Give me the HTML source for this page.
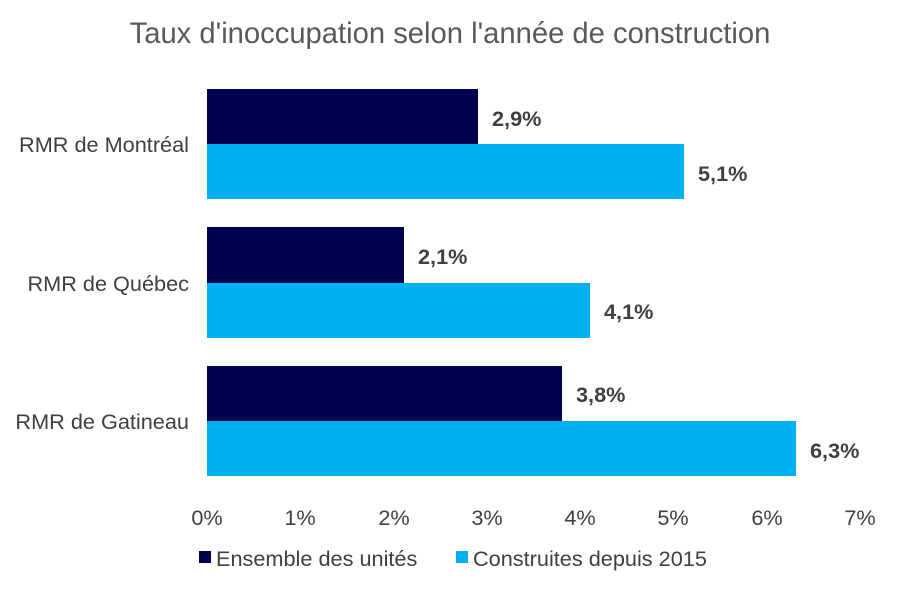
<!DOCTYPE html>
<html><head><meta charset="utf-8"><style>
body{margin:0;background:#fff}
svg text{font-family:"Liberation Sans",Arial,sans-serif}
</style></head><body>
<svg width="900" height="591" xmlns="http://www.w3.org/2000/svg">
<rect width="900" height="591" fill="#fff"/>
<text x="450" y="43" text-anchor="middle" font-size="29.2" fill="#595959">Taux d'inoccupation selon l'année de construction</text>
<g fill="#000050">
<rect x="207" y="89" width="271" height="55"/>
<rect x="207" y="227" width="197" height="56"/>
<rect x="207" y="366" width="355" height="55"/>
</g>
<g fill="#00b0f0">
<rect x="207" y="144" width="477" height="55"/>
<rect x="207" y="283" width="383" height="55"/>
<rect x="207" y="421" width="589" height="55"/>
</g>
<g font-size="21.7" font-weight="bold" fill="#404040">
<text x="492" y="126">2,9%</text>
<text x="698" y="181">5,1%</text>
<text x="418" y="264">2,1%</text>
<text x="604" y="319">4,1%</text>
<text x="576" y="402">3,8%</text>
<text x="810" y="458">6,3%</text>
</g>
<g font-size="21.7" fill="#404040" text-anchor="end">
<text x="189" y="152">RMR de Montréal</text>
<text x="189" y="291">RMR de Québec</text>
<text x="189" y="429">RMR de Gatineau</text>
</g>
<g font-size="21.7" fill="#404040" text-anchor="middle">
<text x="207" y="525">0%</text>
<text x="300" y="525">1%</text>
<text x="394" y="525">2%</text>
<text x="487" y="525">3%</text>
<text x="580" y="525">4%</text>
<text x="673" y="525">5%</text>
<text x="767" y="525">6%</text>
<text x="860" y="525">7%</text>
</g>
<rect x="199" y="551" width="12" height="12" fill="#000050"/>
<text x="216" y="566" font-size="21.7" fill="#404040">Ensemble des unités</text>
<rect x="456" y="551" width="12" height="12" fill="#00b0f0"/>
<text x="473" y="566" font-size="21.7" fill="#404040">Construites depuis 2015</text>
</svg>
</body></html>
